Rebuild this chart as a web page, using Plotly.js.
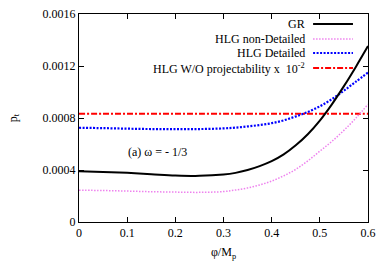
<!DOCTYPE html>
<html>
<head>
<meta charset="utf-8">
<script src="https://cdn.plot.ly/plotly-3.0.1.min.js"></script>
<style>html,body{margin:0;padding:0;background:#fff;}#chart{width:389px;height:273px;}</style>
</head>
<body>
<div id="chart"></div>
<script>
var phi = [0, 0.05, 0.1, 0.15, 0.2, 0.25, 0.3, 0.325, 0.35, 0.375, 0.4, 0.425, 0.45, 0.475, 0.5, 0.525, 0.55, 0.575, 0.6];
var gr = [0.000390, 0.000385, 0.000378, 0.000368, 0.000358, 0.000355, 0.000365, 0.000378, 0.000400, 0.000430, 0.000468, 0.000520, 0.000590, 0.000675, 0.000780, 0.000905, 0.001045, 0.001195, 0.001353];
var hlgNonDetailed = [0.000245, 0.000242, 0.000238, 0.000233, 0.000230, 0.000228, 0.000234, 0.000246, 0.000262, 0.000285, 0.000315, 0.000355, 0.000405, 0.000470, 0.000545, 0.000620, 0.000705, 0.000800, 0.000905];
var hlgDetailed = [0.000725, 0.000722, 0.000718, 0.000715, 0.000714, 0.000715, 0.000720, 0.000726, 0.000735, 0.000746, 0.000760, 0.000782, 0.000812, 0.000846, 0.000890, 0.000945, 0.001010, 0.001080, 0.001150];
var hlgWO = [0.000833, 0.000833, 0.000833, 0.000833, 0.000833, 0.000833, 0.000833, 0.000833, 0.000833, 0.000833, 0.000833, 0.000833, 0.000833, 0.000833, 0.000833, 0.000833, 0.000833, 0.000833, 0.000833];

var seriesNames = ['GR', 'HLG non-Detailed', 'HLG Detailed', 'HLG W/O projectability x  10<sup>-2</sup>'];
var xTicks = [0, 0.1, 0.2, 0.3, 0.4, 0.5, 0.6];
var xTickText = ['0', '0.1', '0.2', '0.3', '0.4', '0.5', '0.6'];
var yTicks = [0, 0.0004, 0.0008, 0.0012, 0.0016];
var yTickText = ['0', '0.0004', '0.0008', '0.0012', '0.0016'];

var styles = [
  {color: '#000000', width: 2, dash: 'solid'},
  {color: '#ee82ee', width: 1.5, dash: '1.5px,1.5px'},
  {color: '#0000ff', width: 2.2, dash: '2px,1.5px'},
  {color: '#ff0000', width: 2, dash: '6px,2px,2px,2px'}
];
var ys = [gr, hlgNonDetailed, hlgDetailed, hlgWO];
var order = [3, 2, 1, 0];
var traces = order.map(function(i){
  return {x: phi, y: ys[i], type: 'scatter', mode: 'lines', name: seriesNames[i],
    line: {color: styles[i].color, width: styles[i].width, dash: styles[i].dash, shape: 'spline', smoothing: 1},
    hoverinfo: 'skip', showlegend: false};
});

var serif = 'Liberation Serif, Times New Roman, serif';
var legY = [0.952, 0.880, 0.8125, 0.740];
var annotations = seriesNames.map(function(n, i){
  return {xref: 'paper', yref: 'paper', x: 0.789, y: legY[i], xanchor: 'right', yanchor: 'middle',
    text: n, showarrow: false, font: {family: serif, size: 12, color: '#000'}};
});
annotations.push({xref: 'x', yref: 'y', x: 0.162, y: 0.00054, xanchor: 'center', yanchor: 'middle',
  text: '(a) ω = - 1/3', showarrow: false, font: {family: serif, size: 12, color: '#000'}});
var shapes = seriesNames.map(function(n, i){
  return {type: 'line', xref: 'paper', yref: 'paper', x0: 0.81, x1: 0.948, y0: legY[i], y1: legY[i],
    line: {color: styles[i].color, width: styles[i].width, dash: styles[i].dash}};
});

var font = {family: serif, size: 12, color: '#000'};
var layout = {
  width: 389, height: 273,
  margin: {l: 79, r: 21, t: 14, b: 51},
  paper_bgcolor: '#fff', plot_bgcolor: '#fff',
  font: font,
  showlegend: false,
  xaxis: {range: [0, 0.6], tickvals: xTicks, ticktext: xTickText, ticks: 'inside', ticklen: 5, tickcolor: '#000',
    showline: true, linecolor: '#000', linewidth: 1, mirror: 'allticks', showgrid: false, zeroline: false,
    title: {text: 'φ/M<sub>p</sub>', font: font, standoff: 8}, automargin: false, tickfont: font},
  yaxis: {range: [0, 0.0016], tickvals: yTicks, ticktext: yTickText, ticks: 'inside', ticklen: 5, tickcolor: '#000',
    showline: true, linecolor: '#000', linewidth: 1, mirror: 'allticks', showgrid: false, zeroline: false,
    title: {text: 'p<sub>t</sub>', font: font, standoff: 22}, automargin: false, tickfont: font},
  annotations: annotations,
  shapes: shapes
};
Plotly.newPlot('chart', traces, layout, {staticPlot: true, displayModeBar: false});
</script>
</body>
</html>
